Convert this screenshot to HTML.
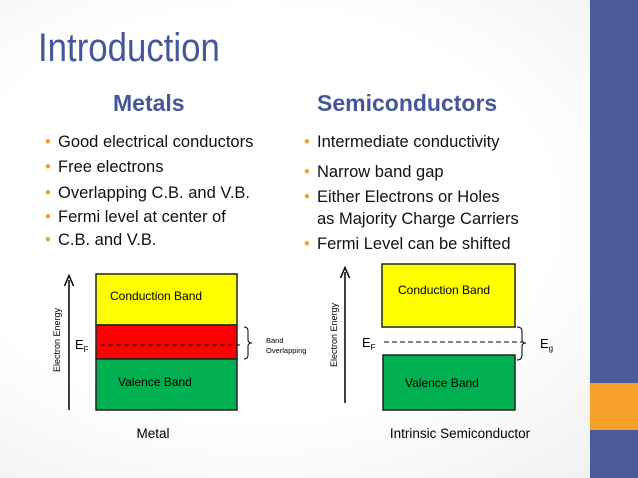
<!DOCTYPE html>
<html><head><style>
html,body{margin:0;padding:0}
body{width:638px;height:478px;position:relative;overflow:hidden;background:radial-gradient(ellipse at 40% 45%,#ffffff 55%,#eeeeee 100%);font-family:"Liberation Sans",sans-serif}
.t{position:absolute;white-space:nowrap;line-height:1}
.b{position:absolute;white-space:nowrap;font-size:16.5px;color:#111}
.b:before{content:"•";color:#f2a02c;position:absolute;left:-13px}
</style></head><body>
<div style="position:absolute;left:590px;top:0;width:48px;height:478px;background:#4a5b9c"></div>
<div style="position:absolute;left:590px;top:383px;width:48px;height:47px;background:#f7a12b"></div>
<div class="t" style="left:38px;top:28px;font-size:40px;color:#44579a;transform:scaleX(0.87);transform-origin:left">Introduction</div>
<div class="t" style="left:113px;top:92px;font-size:23px;font-weight:bold;color:#44579a">Metals</div>
<div class="t" style="left:317px;top:92px;font-size:23px;font-weight:bold;color:#44579a">Semiconductors</div>
<div class="b" style="left:58px;top:133px">Good electrical conductors</div>
<div class="b" style="left:58px;top:158px">Free electrons</div>
<div class="b" style="left:58px;top:184px">Overlapping C.B. and V.B.</div>
<div class="b" style="left:58px;top:208px">Fermi level at center of</div>
<div class="b" style="left:58px;top:231px;" ><span style="position:absolute;left:0">C.B. and V.B.</span></div>
<div class="b" style="left:317px;top:133px">Intermediate conductivity</div>
<div class="b" style="left:317px;top:163px">Narrow band gap</div>
<div class="b" style="left:317px;top:188px">Either Electrons or Holes</div>
<div class="t" style="left:317px;top:211px;font-size:16.5px;color:#111">as Majority Charge Carriers</div>
<div class="b" style="left:317px;top:235px">Fermi Level can be shifted</div>
<svg width="638" height="478" style="position:absolute;left:0;top:0" font-family="Liberation Sans, sans-serif">
<defs><marker id="a" markerWidth="8" markerHeight="8" refX="4" refY="4" orient="auto"><path d="M0,1 L7,4 L0,7" fill="none" stroke="#000" stroke-width="1"/></marker></defs>
<!-- metal -->
<line x1="69" y1="410" x2="69" y2="280" stroke="#000" stroke-width="1.5" marker-end="url(#a)"/>
<text x="60" y="340" font-size="9" text-anchor="middle" transform="rotate(-90 60 340)">Electron Energy</text>
<rect x="96" y="274" width="141" height="51" fill="#ffff00" stroke="#222" stroke-width="1.5"/>
<rect x="96" y="325" width="141" height="34" fill="#ff0000" stroke="#222" stroke-width="1.5"/>
<rect x="96" y="359" width="141" height="51" fill="#00b050" stroke="#222" stroke-width="1.5"/>
<line x1="100" y1="345" x2="240" y2="345" stroke="#000" stroke-dasharray="5,3"/>
<text x="75" y="349" font-size="13">E<tspan font-size="8" dy="3">F</tspan></text>
<text x="110" y="300" font-size="12">Conduction Band</text>
<text x="118" y="386" font-size="12">Valence Band</text>
<path d="M244,327 Q248,327 248,331 L248,340 Q248,343 252,343 Q248,343 248,346 L248,355 Q248,359 244,359" fill="none" stroke="#000"/>
<text x="266" y="343" font-size="7.5">Band</text>
<text x="266" y="353" font-size="7.5">Overlapping</text>
<text x="153" y="438" font-size="13.5" text-anchor="middle">Metal</text>
<!-- semiconductor -->
<line x1="345" y1="403" x2="345" y2="272" stroke="#000" stroke-width="1.5" marker-end="url(#a)"/>
<text x="337" y="335" font-size="9" text-anchor="middle" transform="rotate(-90 337 335)">Electron Energy</text>
<rect x="382" y="264" width="133" height="63" fill="#ffff00" stroke="#222" stroke-width="1.5"/>
<rect x="383" y="355" width="132" height="55" fill="#00b050" stroke="#222" stroke-width="1.5"/>
<line x1="384" y1="342" x2="522" y2="342" stroke="#000" stroke-dasharray="5,3"/>
<text x="362" y="347" font-size="13">E<tspan font-size="8" dy="3">F</tspan></text>
<text x="398" y="294" font-size="12">Conduction Band</text>
<text x="405" y="387" font-size="12">Valence Band</text>
<path d="M517,327 Q522,327 522,331 L522,340 Q522,343 526,343 Q522,343 522,346 L522,355 Q522,360 517,360" fill="none" stroke="#000"/>
<text x="540" y="348" font-size="13">E<tspan font-size="8" dy="3">g</tspan></text>
<text x="460" y="438" font-size="13.5" text-anchor="middle">Intrinsic Semiconductor</text>
</svg>
</body></html>
